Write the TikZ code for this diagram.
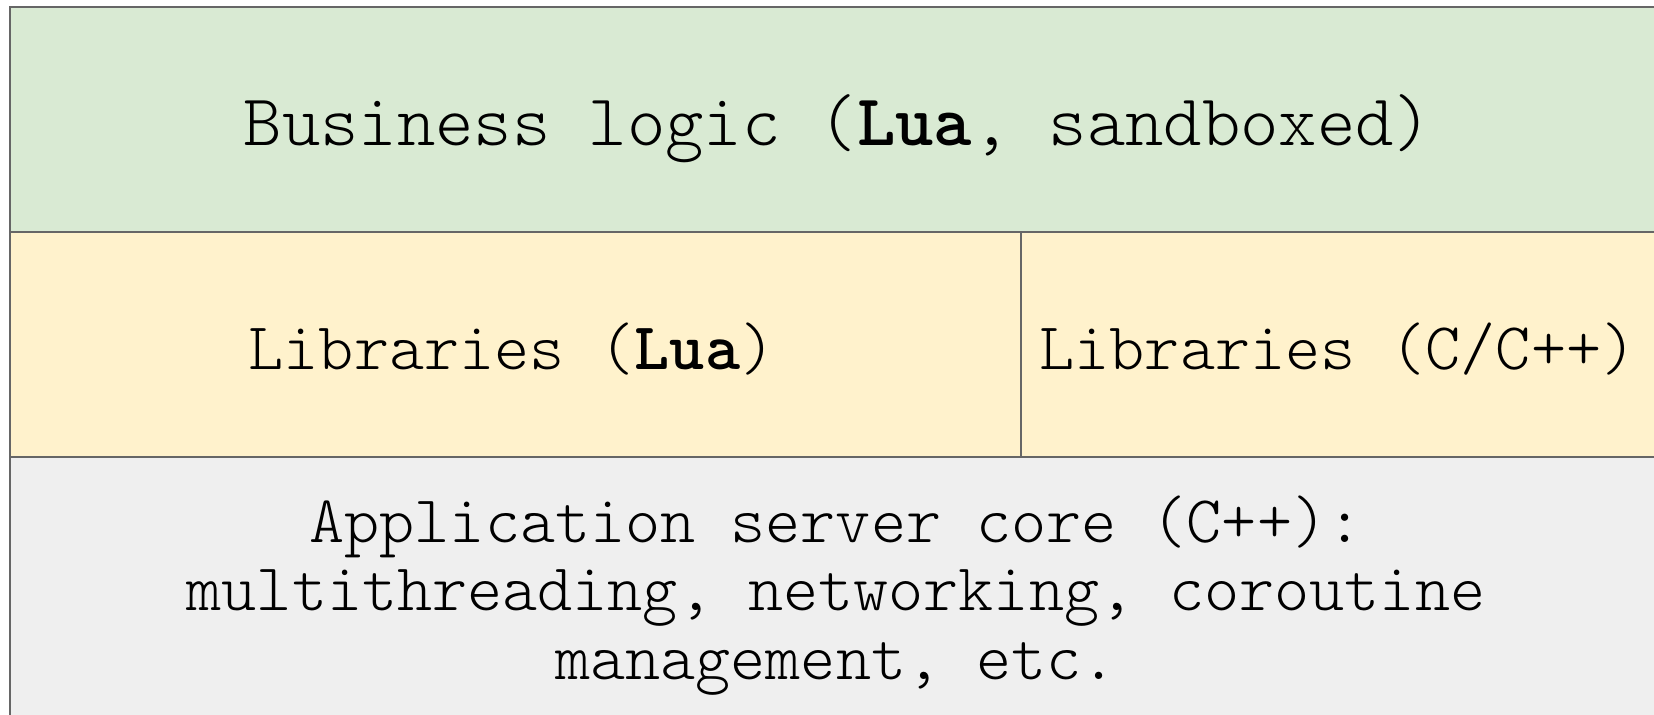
\documentclass[tikz,border=0pt]{standalone}
\usepackage{fontspec}
\setmainfont{Latin Modern Mono Light}
\definecolor{bizfill}{HTML}{D9EAD3}
\definecolor{libfill}{HTML}{FFF2CC}
\definecolor{corefill}{HTML}{EFEFEF}
\definecolor{edge}{HTML}{666666}
\begin{document}
\begin{tikzpicture}[x=1bp,y=-1bp,
  layer/.style={draw=edge, line width=2.4bp},
  bigtext/.style={font=\fontsize{73.3}{80}\selectfont, inner sep=0pt, anchor=base},
  smalltext/.style={font=\fontsize{67.1}{68.6}\selectfont, inner sep=0pt, anchor=base, align=center}]
  \useasboundingbox (0,0) rectangle (1654,715);
  \begin{scope}
    \clip (0,0) rectangle (1654,715);
    % three stacked layers; right and bottom edges run past the page
    \path[layer, fill=bizfill]  (10,7)   rectangle (1670,232);
    \path[layer, fill=libfill]  (10,232) rectangle (1021,457);
    \path[layer, fill=libfill]  (1021,232) rectangle (1670,457);
    \path[layer, fill=corefill] (10,457) rectangle (1670,730);
  \end{scope}
  \node[bigtext] (biz) at (838,146) {Business logic (\textbf{Lua}, sandboxed)};
  \node[smalltext] (lualib) at (512,369) {Libraries (\textbf{Lua})};
  \node[smalltext] (clib) at (1338,369) {Libraries (C/C++)};
  \node[smalltext] (core) at (836,679) {Application server core (C++):\\multithreading, networking, coroutine\\management, etc.};
\end{tikzpicture}
\end{document}
